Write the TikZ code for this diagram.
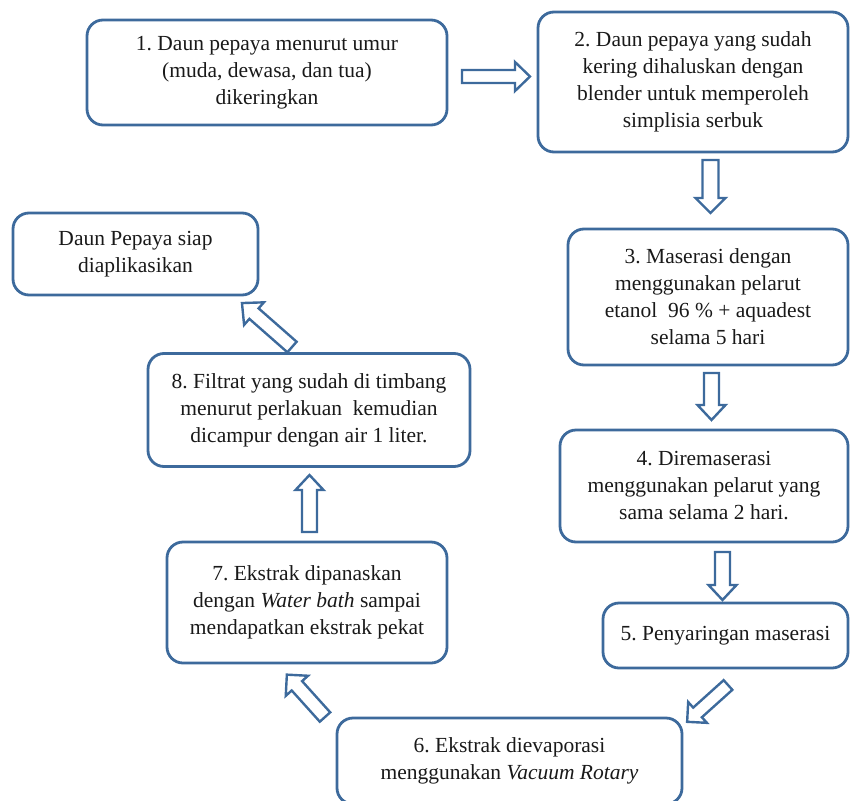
\documentclass[tikz,border=0pt]{standalone}
\usepackage{fontspec}
\setmainfont{Liberation Serif}
\definecolor{bc}{HTML}{3D6A9C}
\frenchspacing
\newcommand\barr[6]{\draw[arr, shift={(#1)}, rotate=#2] (0,-#4/2) -- (#3-#6,-#4/2) -- (#3-#6,-#5/2) -- (#3,0) -- (#3-#6,#5/2) -- (#3-#6,#4/2) -- (0,#4/2) -- cycle;}
\begin{document}
\begin{tikzpicture}[x=1pt,y=-1pt,
  box/.style={draw=bc, line width=2.8pt, rounded corners=16pt, align=center, inner sep=0pt, text=black!90, font=\fontsize{21.5}{27}\selectfont\frenchspacing},
  arr/.style={draw=bc, line width=2.4pt, fill=white, line join=miter}]
\useasboundingbox (0,0) rectangle (850,800);
\clip (0,0) rectangle (850,800);
% boxes
\node[box, minimum width=360, minimum height=105] (b1) at (267,72.5) {1. Daun pepaya menurut umur\\(muda, dewasa, dan tua)\\dikeringkan};
\node[box, minimum width=310, minimum height=140] (b2) at (693,82) {2. Daun pepaya yang sudah\\kering dihaluskan dengan\\blender untuk memperoleh\\simplisia serbuk};
\node[box, minimum width=280, minimum height=136] (b3) at (708,297) {3. Maserasi dengan\\menggunakan pelarut\\etanol\ \ 96 \% + aquadest\\selama 5 hari};
\node[box, minimum width=288, minimum height=112] (b4) at (704,486) {4. Diremaserasi\\menggunakan pelarut yang\\sama selama 2 hari.};
\node[box, minimum width=245, minimum height=65] (b5) at (725.5,635.5) {5. Penyaringan maserasi};
\node[box, minimum width=345, minimum height=86] (b6) at (509.5,761) {6. Ekstrak dievaporasi\\menggunakan \textit{Vacuum Rotary}};
\node[box, minimum width=280, minimum height=121] (b7) at (307,602.5) {7. Ekstrak dipanaskan\\dengan \textit{Water bath} sampai\\mendapatkan ekstrak pekat};
\node[box, minimum width=322, minimum height=113] (b8) at (309,410) {8. Filtrat yang sudah di timbang\\menurut perlakuan\ \ kemudian\\dicampur dengan air 1 liter.};
\node[box, minimum width=245, minimum height=82] (b9) at (135.5,254) {Daun Pepaya siap\\diaplikasikan};
% block arrows
\barr{462,76.5}{0}{68}{13}{29}{15}
\barr{710.5,160}{-90}{53}{16}{30}{15}
\barr{711.5,373}{-90}{47}{15}{28}{15}
\barr{722.5,552}{-90}{48}{15}{28}{15}
\barr{728,685}{222}{55}{13}{28}{14}
\barr{325,717}{132}{57}{14}{30}{15}
\barr{309.5,532}{90}{57}{15}{28}{15}
\barr{292,347}{138.7}{66.6}{14}{30}{16}
\end{tikzpicture}
\end{document}
